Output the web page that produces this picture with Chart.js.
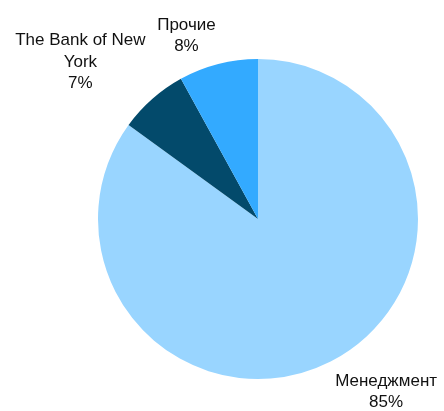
<!DOCTYPE html>
<html>
<head>
<meta charset="utf-8">
<script src="https://cdn.jsdelivr.net/npm/chart.js@4/dist/chart.umd.min.js"></script>
<style>
  body { margin: 0; background: #fff; }
  #wrap { width: 444px; height: 411px; }
</style>
</head>
<body>
<div id="wrap"><canvas id="pie"></canvas></div>
<script>
// shareholders
const categories = ['Менеджмент', ['The Bank of New', 'York'], 'Прочие'];
const shares = [85, 7, 8];
const colors = ['#99d5ff', '#034a6b', '#33aaff'];

// labels outside the slices, block edge sits on the anchor point
const outsideLabels = {
  id: 'outsideLabels',
  afterDraw(chart) {
    const ctx = chart.ctx;
    const meta = chart.getDatasetMeta(0);
    const lineH = 21.5;
    ctx.save();
    ctx.font = '17px "Liberation Sans", Arial, sans-serif';
    ctx.fillStyle = '#111';
    ctx.textAlign = 'center';
    ctx.textBaseline = 'middle';
    meta.data.forEach((arc, i) => {
      const p = arc.getProps(['startAngle', 'endAngle', 'x', 'y', 'outerRadius'], true);
      const mid = (p.startAngle + p.endAngle) / 2;
      const r = p.outerRadius + 10;
      const ax = p.x + Math.cos(mid) * r;
      const ay = p.y + Math.sin(mid) * r;
      const lbl = categories[i];
      const lines = Array.isArray(lbl) ? lbl.slice() : [lbl];
      lines.push(shares[i] + '%');
      const w = Math.max(...lines.map(l => ctx.measureText(l).width));
      const h = lines.length * lineH;
      const left = ax >= p.x ? ax : ax - w;
      const top = ay >= p.y ? ay : ay - h + 3;
      lines.forEach((l, k) => ctx.fillText(l, left + w / 2, top + k * lineH + lineH / 2));
    });
    ctx.restore();
  }
};

const pieCtx = document.getElementById('pie').getContext('2d');
const pieChart = new Chart(pieCtx, {
  type: 'pie',
  data: {
    labels: categories,
    datasets: [{
      data: shares,
      backgroundColor: colors,
      borderWidth: 0
    }]
  },
  options: {
    responsive: true,
    maintainAspectRatio: false,
    animation: false,
    layout: { padding: { top: 59, bottom: 32, left: 98, right: 26 } },
    plugins: {
      legend: { display: false },
      tooltip: { enabled: false }
    }
  },
  plugins: [outsideLabels]
});
</script>
</body>
</html>
